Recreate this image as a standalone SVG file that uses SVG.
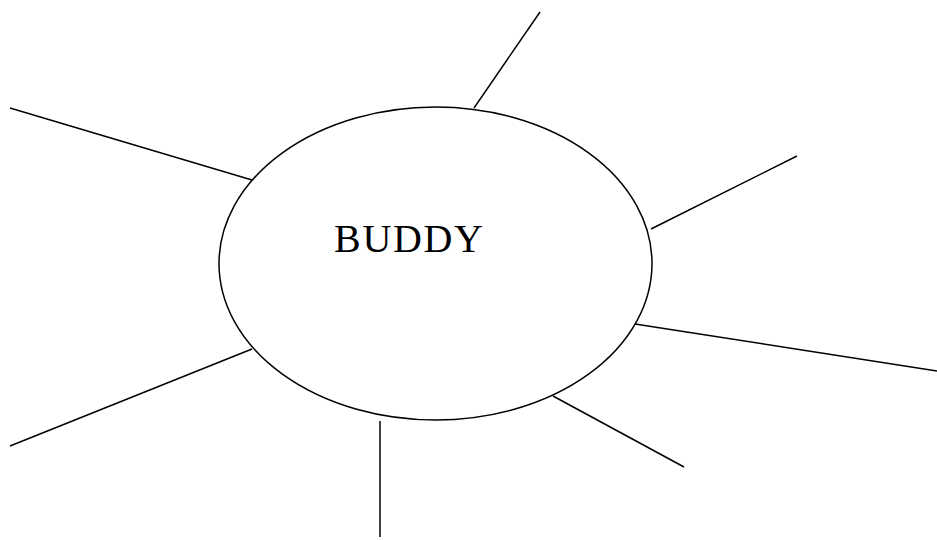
<svg xmlns="http://www.w3.org/2000/svg" width="937" height="540" viewBox="0 0 937 540">
<style>
.l{stroke:#000;stroke-width:1.5;fill:none}
.t{font-family:"Liberation Serif","Times New Roman",serif;font-size:40px;fill:#000}
</style>
<rect width="937" height="540" fill="#fff"/>
<g id="connectors">
<line class="l" x1="540" y1="12" x2="474" y2="108"/>
<line class="l" x1="10" y1="108" x2="252" y2="180"/>
<line class="l" x1="797" y1="156" x2="651" y2="229"/>
<line class="l" x1="635" y1="324" x2="937" y2="371"/>
<line class="l" x1="553" y1="396" x2="684" y2="467"/>
<line class="l" x1="380" y1="421" x2="380" y2="537"/>
<line class="l" x1="10" y1="446" x2="252" y2="349"/>
</g>
<g id="buddy">
<ellipse class="l" cx="435.5" cy="263.5" rx="216.5" ry="156.5"/>
<text class="t" x="334" y="252" textLength="149" lengthAdjust="spacing">BUDDY</text>
</g>
</svg>
